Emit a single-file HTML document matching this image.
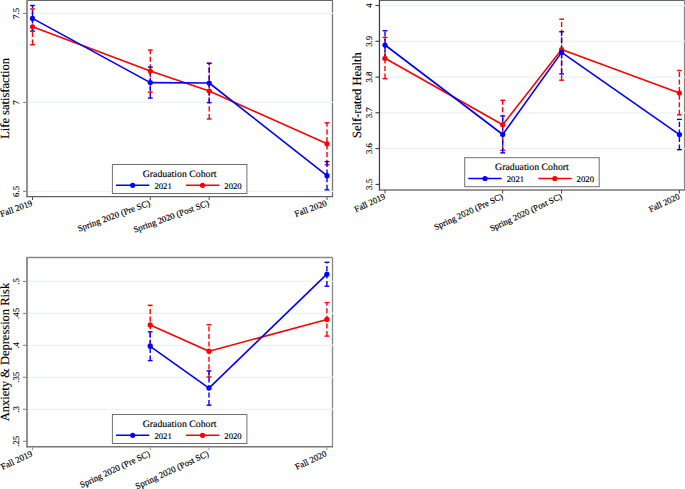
<!DOCTYPE html>
<html><head><meta charset="utf-8"><style>
html,body{margin:0;padding:0;background:#fff;}
body{width:685px;height:489px;overflow:hidden;}
svg{display:block;}
text{font-family:"Liberation Serif",serif;fill:#000;text-rendering:geometricPrecision;stroke:#000;stroke-width:0.15px;}
.yt{font-size:8.8px;}
.xt{font-size:8.7px;}
.ttl{font-size:12.5px;}
.lt{font-size:9.8px;}
.ll{font-size:8.7px;}
</style></head><body>
<svg width="685" height="489" viewBox="0 0 685 489">
<rect width="685" height="489" fill="#fff"/>
<line x1="27.0" y1="0.3" x2="332.5" y2="0.3" stroke="#666" stroke-width="1.3"/>
<line x1="332.5" y1="0.3" x2="332.5" y2="196.5" stroke="#777" stroke-width="1.3"/>
<line x1="27.0" y1="191.4" x2="333.3" y2="191.4" stroke="#ecf1f2" stroke-width="1.3"/>
<line x1="27.0" y1="102.45" x2="333.3" y2="102.45" stroke="#ecf1f2" stroke-width="1.3"/>
<line x1="27.0" y1="13.45" x2="333.3" y2="13.45" stroke="#ecf1f2" stroke-width="1.3"/>
<line x1="27.0" y1="-0.3" x2="27.0" y2="197.1" stroke="#888" stroke-width="1.8"/>
<line x1="26.3" y1="196.5" x2="333.1" y2="196.5" stroke="#606060" stroke-width="1.25"/>
<line x1="23.0" y1="191.4" x2="27.0" y2="191.4" stroke="#888" stroke-width="1.1"/>
<text x="19.2" y="191.4" transform="rotate(-90 19.2 191.4)" text-anchor="middle" class="yt">6.5</text>
<line x1="23.0" y1="102.45" x2="27.0" y2="102.45" stroke="#888" stroke-width="1.1"/>
<text x="19.2" y="102.45" transform="rotate(-90 19.2 102.45)" text-anchor="middle" class="yt">7</text>
<line x1="23.0" y1="13.45" x2="27.0" y2="13.45" stroke="#888" stroke-width="1.1"/>
<text x="19.2" y="13.45" transform="rotate(-90 19.2 13.45)" text-anchor="middle" class="yt">7.5</text>
<text x="9.3" y="98.4" transform="rotate(-90 9.3 98.4)" text-anchor="middle" class="ttl">Life satisfaction</text>
<line x1="32.5" y1="196.5" x2="32.5" y2="200.0" stroke="#555" stroke-width="1"/>
<text x="33.0" y="205.5" transform="rotate(-20 33.0 205.5)" text-anchor="end" class="xt" style="font-size:8.85px">Fall 2019</text>
<line x1="150.3" y1="196.5" x2="150.3" y2="200.0" stroke="#555" stroke-width="1"/>
<text x="150.8" y="205.5" transform="rotate(-20 150.8 205.5)" text-anchor="end" class="xt" style="font-size:8.85px">Spring 2020 (Pre SC)</text>
<line x1="209.2" y1="196.5" x2="209.2" y2="200.0" stroke="#555" stroke-width="1"/>
<text x="209.7" y="205.5" transform="rotate(-20 209.7 205.5)" text-anchor="end" class="xt" style="font-size:8.85px">Spring 2020 (Post SC)</text>
<line x1="327.0" y1="196.5" x2="327.0" y2="200.0" stroke="#555" stroke-width="1"/>
<text x="327.5" y="205.5" transform="rotate(-20 327.5 205.5)" text-anchor="end" class="xt" style="font-size:8.85px">Fall 2020</text>
<line x1="32.5" y1="44.7" x2="32.5" y2="9.0" stroke="#ff0000" stroke-width="1.4" stroke-dasharray="5.1 2.5"/>
<line x1="30.1" y1="9.0" x2="34.9" y2="9.0" stroke="#ff0000" stroke-width="1.4"/>
<line x1="30.1" y1="44.7" x2="34.9" y2="44.7" stroke="#ff0000" stroke-width="1.4"/>
<line x1="150.3" y1="92.2" x2="150.3" y2="50.0" stroke="#ff0000" stroke-width="1.4" stroke-dasharray="5.1 2.5"/>
<line x1="147.9" y1="50.0" x2="152.70000000000002" y2="50.0" stroke="#ff0000" stroke-width="1.4"/>
<line x1="147.9" y1="92.2" x2="152.70000000000002" y2="92.2" stroke="#ff0000" stroke-width="1.4"/>
<line x1="209.2" y1="119.0" x2="209.2" y2="63.2" stroke="#ff0000" stroke-width="1.4" stroke-dasharray="5.1 2.5"/>
<line x1="206.79999999999998" y1="63.2" x2="211.6" y2="63.2" stroke="#ff0000" stroke-width="1.4"/>
<line x1="206.79999999999998" y1="119.0" x2="211.6" y2="119.0" stroke="#ff0000" stroke-width="1.4"/>
<line x1="327.0" y1="164.8" x2="327.0" y2="122.8" stroke="#ff0000" stroke-width="1.4" stroke-dasharray="5.1 2.5"/>
<line x1="324.6" y1="122.8" x2="329.4" y2="122.8" stroke="#ff0000" stroke-width="1.4"/>
<line x1="324.6" y1="164.8" x2="329.4" y2="164.8" stroke="#ff0000" stroke-width="1.4"/>
<line x1="32.5" y1="31.1" x2="32.5" y2="5.5" stroke="#0000ff" stroke-width="1.4" stroke-dasharray="5.1 2.5"/>
<line x1="30.1" y1="5.5" x2="34.9" y2="5.5" stroke="#0000ff" stroke-width="1.4"/>
<line x1="30.1" y1="31.1" x2="34.9" y2="31.1" stroke="#0000ff" stroke-width="1.4"/>
<line x1="150.3" y1="98.1" x2="150.3" y2="67.1" stroke="#0000ff" stroke-width="1.4" stroke-dasharray="5.1 2.5"/>
<line x1="147.9" y1="67.1" x2="152.70000000000002" y2="67.1" stroke="#0000ff" stroke-width="1.4"/>
<line x1="147.9" y1="98.1" x2="152.70000000000002" y2="98.1" stroke="#0000ff" stroke-width="1.4"/>
<line x1="209.2" y1="102.6" x2="209.2" y2="63.4" stroke="#0000ff" stroke-width="1.4" stroke-dasharray="5.1 2.5"/>
<line x1="206.79999999999998" y1="63.4" x2="211.6" y2="63.4" stroke="#0000ff" stroke-width="1.4"/>
<line x1="206.79999999999998" y1="102.6" x2="211.6" y2="102.6" stroke="#0000ff" stroke-width="1.4"/>
<line x1="327.0" y1="189.8" x2="327.0" y2="161.6" stroke="#0000ff" stroke-width="1.4" stroke-dasharray="5.1 2.5"/>
<line x1="324.6" y1="161.6" x2="329.4" y2="161.6" stroke="#0000ff" stroke-width="1.4"/>
<line x1="324.6" y1="189.8" x2="329.4" y2="189.8" stroke="#0000ff" stroke-width="1.4"/>
<polyline points="32.5,26.8 150.3,71.1 209.2,91.1 327.0,143.8" fill="none" stroke="#ff0000" stroke-width="1.6" stroke-linejoin="round"/>
<circle cx="32.5" cy="26.8" r="2.6" fill="#ff0000"/>
<circle cx="150.3" cy="71.1" r="2.6" fill="#ff0000"/>
<circle cx="209.2" cy="91.1" r="2.6" fill="#ff0000"/>
<circle cx="327.0" cy="143.8" r="2.6" fill="#ff0000"/>
<polyline points="32.5,18.4 150.3,82.6 209.2,83.0 327.0,175.7" fill="none" stroke="#0000ff" stroke-width="1.6" stroke-linejoin="round"/>
<circle cx="32.5" cy="18.4" r="2.6" fill="#0000ff"/>
<circle cx="150.3" cy="82.6" r="2.6" fill="#0000ff"/>
<circle cx="209.2" cy="83.0" r="2.6" fill="#0000ff"/>
<circle cx="327.0" cy="175.7" r="2.6" fill="#0000ff"/>
<rect x="112.4" y="164.5" width="134.5" height="29.0" fill="#fff" stroke="#707070" stroke-width="1"/>
<text x="179.65" y="176.5" text-anchor="middle" class="lt">Graduation Cohort</text>
<line x1="116.0" y1="185.3" x2="149.3" y2="185.3" stroke="#0000ff" stroke-width="1.6"/>
<circle cx="132.70000000000002" cy="185.3" r="2.6" fill="#0000ff"/>
<text x="154.4" y="188.9" class="ll">2021</text>
<line x1="186.0" y1="185.3" x2="219.4" y2="185.3" stroke="#ff0000" stroke-width="1.6"/>
<circle cx="202.5" cy="185.3" r="2.6" fill="#ff0000"/>
<text x="224.3" y="188.9" class="ll">2020</text>
<line x1="379.45" y1="0.3" x2="684.4" y2="0.3" stroke="#666" stroke-width="1.3"/>
<line x1="684.4" y1="0.3" x2="684.4" y2="189.95" stroke="#777" stroke-width="1.0"/>
<line x1="379.45" y1="148.6" x2="685.1999999999999" y2="148.6" stroke="#ecf1f2" stroke-width="1.3"/>
<line x1="379.45" y1="112.8" x2="685.1999999999999" y2="112.8" stroke="#ecf1f2" stroke-width="1.3"/>
<line x1="379.45" y1="77.1" x2="685.1999999999999" y2="77.1" stroke="#ecf1f2" stroke-width="1.3"/>
<line x1="379.45" y1="41.3" x2="685.1999999999999" y2="41.3" stroke="#ecf1f2" stroke-width="1.3"/>
<line x1="379.45" y1="5.5" x2="685.1999999999999" y2="5.5" stroke="#ecf1f2" stroke-width="1.3"/>
<line x1="379.45" y1="-0.3" x2="379.45" y2="190.54999999999998" stroke="#3c3c3c" stroke-width="1.25"/>
<line x1="378.75" y1="189.95" x2="685.0" y2="189.95" stroke="#777" stroke-width="1.4"/>
<line x1="375.45" y1="184.4" x2="379.45" y2="184.4" stroke="#3c3c3c" stroke-width="1.1"/>
<text x="371.65" y="184.4" transform="rotate(-90 371.65 184.4)" text-anchor="middle" class="yt">3.5</text>
<line x1="375.45" y1="148.6" x2="379.45" y2="148.6" stroke="#3c3c3c" stroke-width="1.1"/>
<text x="371.65" y="148.6" transform="rotate(-90 371.65 148.6)" text-anchor="middle" class="yt">3.6</text>
<line x1="375.45" y1="112.8" x2="379.45" y2="112.8" stroke="#3c3c3c" stroke-width="1.1"/>
<text x="371.65" y="112.8" transform="rotate(-90 371.65 112.8)" text-anchor="middle" class="yt">3.7</text>
<line x1="375.45" y1="77.1" x2="379.45" y2="77.1" stroke="#3c3c3c" stroke-width="1.1"/>
<text x="371.65" y="77.1" transform="rotate(-90 371.65 77.1)" text-anchor="middle" class="yt">3.8</text>
<line x1="375.45" y1="41.3" x2="379.45" y2="41.3" stroke="#3c3c3c" stroke-width="1.1"/>
<text x="371.65" y="41.3" transform="rotate(-90 371.65 41.3)" text-anchor="middle" class="yt">3.9</text>
<line x1="375.45" y1="5.5" x2="379.45" y2="5.5" stroke="#3c3c3c" stroke-width="1.1"/>
<text x="371.65" y="5.5" transform="rotate(-90 371.65 5.5)" text-anchor="middle" class="yt">4</text>
<text x="361.2" y="95.125" transform="rotate(-90 361.2 95.125)" text-anchor="middle" class="ttl">Self-rated Health</text>
<line x1="385.0" y1="189.95" x2="385.0" y2="193.45" stroke="#444" stroke-width="1"/>
<text x="386.0" y="198.45" transform="rotate(-25 386.0 198.45)" text-anchor="end" class="xt" style="font-size:8.7px">Fall 2019</text>
<line x1="502.7" y1="189.95" x2="502.7" y2="193.45" stroke="#444" stroke-width="1"/>
<text x="503.7" y="198.45" transform="rotate(-25 503.7 198.45)" text-anchor="end" class="xt" style="font-size:8.7px">Spring 2020 (Pre SC)</text>
<line x1="561.6" y1="189.95" x2="561.6" y2="193.45" stroke="#444" stroke-width="1"/>
<text x="562.6" y="198.45" transform="rotate(-25 562.6 198.45)" text-anchor="end" class="xt" style="font-size:8.7px">Spring 2020 (Post SC)</text>
<line x1="679.4" y1="189.95" x2="679.4" y2="193.45" stroke="#444" stroke-width="1"/>
<text x="680.4" y="198.45" transform="rotate(-25 680.4 198.45)" text-anchor="end" class="xt" style="font-size:8.7px">Fall 2020</text>
<line x1="385.0" y1="78.7" x2="385.0" y2="37.4" stroke="#ff0000" stroke-width="1.4" stroke-dasharray="5.1 2.5"/>
<line x1="382.6" y1="37.4" x2="387.4" y2="37.4" stroke="#ff0000" stroke-width="1.4"/>
<line x1="382.6" y1="78.7" x2="387.4" y2="78.7" stroke="#ff0000" stroke-width="1.4"/>
<line x1="502.7" y1="150.3" x2="502.7" y2="100.3" stroke="#ff0000" stroke-width="1.4" stroke-dasharray="5.1 2.5"/>
<line x1="500.3" y1="100.3" x2="505.09999999999997" y2="100.3" stroke="#ff0000" stroke-width="1.4"/>
<line x1="500.3" y1="150.3" x2="505.09999999999997" y2="150.3" stroke="#ff0000" stroke-width="1.4"/>
<line x1="561.6" y1="80.2" x2="561.6" y2="19.2" stroke="#ff0000" stroke-width="1.4" stroke-dasharray="5.1 2.5"/>
<line x1="559.2" y1="19.2" x2="564.0" y2="19.2" stroke="#ff0000" stroke-width="1.4"/>
<line x1="559.2" y1="80.2" x2="564.0" y2="80.2" stroke="#ff0000" stroke-width="1.4"/>
<line x1="679.4" y1="114.9" x2="679.4" y2="70.5" stroke="#ff0000" stroke-width="1.4" stroke-dasharray="5.1 2.5"/>
<line x1="677.0" y1="70.5" x2="681.8" y2="70.5" stroke="#ff0000" stroke-width="1.4"/>
<line x1="677.0" y1="114.9" x2="681.8" y2="114.9" stroke="#ff0000" stroke-width="1.4"/>
<line x1="385.0" y1="59.3" x2="385.0" y2="30.7" stroke="#0000ff" stroke-width="1.4" stroke-dasharray="5.1 2.5"/>
<line x1="382.6" y1="30.7" x2="387.4" y2="30.7" stroke="#0000ff" stroke-width="1.4"/>
<line x1="382.6" y1="59.3" x2="387.4" y2="59.3" stroke="#0000ff" stroke-width="1.4"/>
<line x1="502.7" y1="152.9" x2="502.7" y2="116.0" stroke="#0000ff" stroke-width="1.4" stroke-dasharray="5.1 2.5"/>
<line x1="500.3" y1="116.0" x2="505.09999999999997" y2="116.0" stroke="#0000ff" stroke-width="1.4"/>
<line x1="500.3" y1="152.9" x2="505.09999999999997" y2="152.9" stroke="#0000ff" stroke-width="1.4"/>
<line x1="561.6" y1="73.9" x2="561.6" y2="31.7" stroke="#0000ff" stroke-width="1.4" stroke-dasharray="5.1 2.5"/>
<line x1="559.2" y1="31.7" x2="564.0" y2="31.7" stroke="#0000ff" stroke-width="1.4"/>
<line x1="559.2" y1="73.9" x2="564.0" y2="73.9" stroke="#0000ff" stroke-width="1.4"/>
<line x1="679.4" y1="149.7" x2="679.4" y2="119.4" stroke="#0000ff" stroke-width="1.4" stroke-dasharray="5.1 2.5"/>
<line x1="677.0" y1="119.4" x2="681.8" y2="119.4" stroke="#0000ff" stroke-width="1.4"/>
<line x1="677.0" y1="149.7" x2="681.8" y2="149.7" stroke="#0000ff" stroke-width="1.4"/>
<polyline points="385.0,58.3 502.7,124.8 561.6,49.6 679.4,93.0" fill="none" stroke="#ff0000" stroke-width="1.6" stroke-linejoin="round"/>
<circle cx="385.0" cy="58.3" r="2.6" fill="#ff0000"/>
<circle cx="502.7" cy="124.8" r="2.6" fill="#ff0000"/>
<circle cx="561.6" cy="49.6" r="2.6" fill="#ff0000"/>
<circle cx="679.4" cy="93.0" r="2.6" fill="#ff0000"/>
<polyline points="385.0,45.0 502.7,134.5 561.6,52.4 679.4,134.6" fill="none" stroke="#0000ff" stroke-width="1.6" stroke-linejoin="round"/>
<circle cx="385.0" cy="45.0" r="2.6" fill="#0000ff"/>
<circle cx="502.7" cy="134.5" r="2.6" fill="#0000ff"/>
<circle cx="561.6" cy="52.4" r="2.6" fill="#0000ff"/>
<circle cx="679.4" cy="134.6" r="2.6" fill="#0000ff"/>
<rect x="464.7" y="157.7" width="134.5" height="29.0" fill="#fff" stroke="#707070" stroke-width="1"/>
<text x="531.95" y="169.7" text-anchor="middle" class="lt">Graduation Cohort</text>
<line x1="468.3" y1="178.5" x2="501.59999999999997" y2="178.5" stroke="#0000ff" stroke-width="1.6"/>
<circle cx="485.0" cy="178.5" r="2.6" fill="#0000ff"/>
<text x="506.7" y="182.1" class="ll">2021</text>
<line x1="538.3" y1="178.5" x2="571.7" y2="178.5" stroke="#ff0000" stroke-width="1.6"/>
<circle cx="554.8" cy="178.5" r="2.6" fill="#ff0000"/>
<text x="576.6" y="182.1" class="ll">2020</text>
<line x1="27.0" y1="257.5" x2="332.5" y2="257.5" stroke="#888" stroke-width="1.3"/>
<line x1="332.5" y1="257.5" x2="332.5" y2="446.7" stroke="#888" stroke-width="1.3"/>
<line x1="27.0" y1="409.3" x2="333.3" y2="409.3" stroke="#ecf1f2" stroke-width="1.3"/>
<line x1="27.0" y1="377.3" x2="333.3" y2="377.3" stroke="#ecf1f2" stroke-width="1.3"/>
<line x1="27.0" y1="345.3" x2="333.3" y2="345.3" stroke="#ecf1f2" stroke-width="1.3"/>
<line x1="27.0" y1="313.4" x2="333.3" y2="313.4" stroke="#ecf1f2" stroke-width="1.3"/>
<line x1="27.0" y1="281.4" x2="333.3" y2="281.4" stroke="#ecf1f2" stroke-width="1.3"/>
<line x1="27.0" y1="256.9" x2="27.0" y2="447.3" stroke="#888" stroke-width="1.8"/>
<line x1="26.3" y1="446.7" x2="333.1" y2="446.7" stroke="#777" stroke-width="1.4"/>
<line x1="23.0" y1="441.3" x2="27.0" y2="441.3" stroke="#888" stroke-width="1.1"/>
<text x="19.2" y="441.3" transform="rotate(-90 19.2 441.3)" text-anchor="middle" class="yt">.25</text>
<line x1="23.0" y1="409.3" x2="27.0" y2="409.3" stroke="#888" stroke-width="1.1"/>
<text x="19.2" y="409.3" transform="rotate(-90 19.2 409.3)" text-anchor="middle" class="yt">.3</text>
<line x1="23.0" y1="377.3" x2="27.0" y2="377.3" stroke="#888" stroke-width="1.1"/>
<text x="19.2" y="377.3" transform="rotate(-90 19.2 377.3)" text-anchor="middle" class="yt">.35</text>
<line x1="23.0" y1="345.3" x2="27.0" y2="345.3" stroke="#888" stroke-width="1.1"/>
<text x="19.2" y="345.3" transform="rotate(-90 19.2 345.3)" text-anchor="middle" class="yt">.4</text>
<line x1="23.0" y1="313.4" x2="27.0" y2="313.4" stroke="#888" stroke-width="1.1"/>
<text x="19.2" y="313.4" transform="rotate(-90 19.2 313.4)" text-anchor="middle" class="yt">.45</text>
<line x1="23.0" y1="281.4" x2="27.0" y2="281.4" stroke="#888" stroke-width="1.1"/>
<text x="19.2" y="281.4" transform="rotate(-90 19.2 281.4)" text-anchor="middle" class="yt">.5</text>
<text x="9.3" y="352.1" transform="rotate(-90 9.3 352.1)" text-anchor="middle" class="ttl">Anxiety &amp; Depression Risk</text>
<line x1="32.5" y1="446.7" x2="32.5" y2="450.2" stroke="#999" stroke-width="1"/>
<text x="33.0" y="455.7" transform="rotate(-25 33.0 455.7)" text-anchor="end" class="xt" style="font-size:8.85px">Fall 2019</text>
<line x1="150.2" y1="446.7" x2="150.2" y2="450.2" stroke="#999" stroke-width="1"/>
<text x="150.7" y="455.7" transform="rotate(-25 150.7 455.7)" text-anchor="end" class="xt" style="font-size:8.85px">Spring 2020 (Pre SC)</text>
<line x1="209.0" y1="446.7" x2="209.0" y2="450.2" stroke="#999" stroke-width="1"/>
<text x="209.5" y="455.7" transform="rotate(-25 209.5 455.7)" text-anchor="end" class="xt" style="font-size:8.85px">Spring 2020 (Post SC)</text>
<line x1="326.9" y1="446.7" x2="326.9" y2="450.2" stroke="#999" stroke-width="1"/>
<text x="327.4" y="455.7" transform="rotate(-25 327.4 455.7)" text-anchor="end" class="xt" style="font-size:8.85px">Fall 2020</text>
<line x1="150.2" y1="344.5" x2="150.2" y2="305.3" stroke="#ff0000" stroke-width="1.4" stroke-dasharray="5.1 2.5"/>
<line x1="147.79999999999998" y1="305.3" x2="152.6" y2="305.3" stroke="#ff0000" stroke-width="1.4"/>
<line x1="147.79999999999998" y1="344.5" x2="152.6" y2="344.5" stroke="#ff0000" stroke-width="1.4"/>
<line x1="209.0" y1="377.0" x2="209.0" y2="324.7" stroke="#ff0000" stroke-width="1.4" stroke-dasharray="5.1 2.5"/>
<line x1="206.6" y1="324.7" x2="211.4" y2="324.7" stroke="#ff0000" stroke-width="1.4"/>
<line x1="206.6" y1="377.0" x2="211.4" y2="377.0" stroke="#ff0000" stroke-width="1.4"/>
<line x1="326.9" y1="336.1" x2="326.9" y2="302.6" stroke="#ff0000" stroke-width="1.4" stroke-dasharray="5.1 2.5"/>
<line x1="324.5" y1="302.6" x2="329.29999999999995" y2="302.6" stroke="#ff0000" stroke-width="1.4"/>
<line x1="324.5" y1="336.1" x2="329.29999999999995" y2="336.1" stroke="#ff0000" stroke-width="1.4"/>
<line x1="150.2" y1="360.6" x2="150.2" y2="331.8" stroke="#0000ff" stroke-width="1.4" stroke-dasharray="5.1 2.5"/>
<line x1="147.79999999999998" y1="331.8" x2="152.6" y2="331.8" stroke="#0000ff" stroke-width="1.4"/>
<line x1="147.79999999999998" y1="360.6" x2="152.6" y2="360.6" stroke="#0000ff" stroke-width="1.4"/>
<line x1="209.0" y1="405.2" x2="209.0" y2="370.9" stroke="#0000ff" stroke-width="1.4" stroke-dasharray="5.1 2.5"/>
<line x1="206.6" y1="370.9" x2="211.4" y2="370.9" stroke="#0000ff" stroke-width="1.4"/>
<line x1="206.6" y1="405.2" x2="211.4" y2="405.2" stroke="#0000ff" stroke-width="1.4"/>
<line x1="326.9" y1="286.2" x2="326.9" y2="262.3" stroke="#0000ff" stroke-width="1.4" stroke-dasharray="5.1 2.5"/>
<line x1="324.5" y1="262.3" x2="329.29999999999995" y2="262.3" stroke="#0000ff" stroke-width="1.4"/>
<line x1="324.5" y1="286.2" x2="329.29999999999995" y2="286.2" stroke="#0000ff" stroke-width="1.4"/>
<polyline points="150.2,324.9 209.0,351.2 326.9,319.4" fill="none" stroke="#ff0000" stroke-width="1.6" stroke-linejoin="round"/>
<circle cx="150.2" cy="324.9" r="2.6" fill="#ff0000"/>
<circle cx="209.0" cy="351.2" r="2.6" fill="#ff0000"/>
<circle cx="326.9" cy="319.4" r="2.6" fill="#ff0000"/>
<polyline points="150.2,346.3 209.0,388.1 326.9,274.2" fill="none" stroke="#0000ff" stroke-width="1.6" stroke-linejoin="round"/>
<circle cx="150.2" cy="346.3" r="2.6" fill="#0000ff"/>
<circle cx="209.0" cy="388.1" r="2.6" fill="#0000ff"/>
<circle cx="326.9" cy="274.2" r="2.6" fill="#0000ff"/>
<rect x="112.4" y="414.5" width="134.5" height="29.0" fill="#fff" stroke="#707070" stroke-width="1"/>
<text x="179.65" y="426.5" text-anchor="middle" class="lt">Graduation Cohort</text>
<line x1="116.0" y1="435.3" x2="149.3" y2="435.3" stroke="#0000ff" stroke-width="1.6"/>
<circle cx="132.70000000000002" cy="435.3" r="2.6" fill="#0000ff"/>
<text x="154.4" y="438.9" class="ll">2021</text>
<line x1="186.0" y1="435.3" x2="219.4" y2="435.3" stroke="#ff0000" stroke-width="1.6"/>
<circle cx="202.5" cy="435.3" r="2.6" fill="#ff0000"/>
<text x="224.3" y="438.9" class="ll">2020</text>
</svg>
</body></html>
